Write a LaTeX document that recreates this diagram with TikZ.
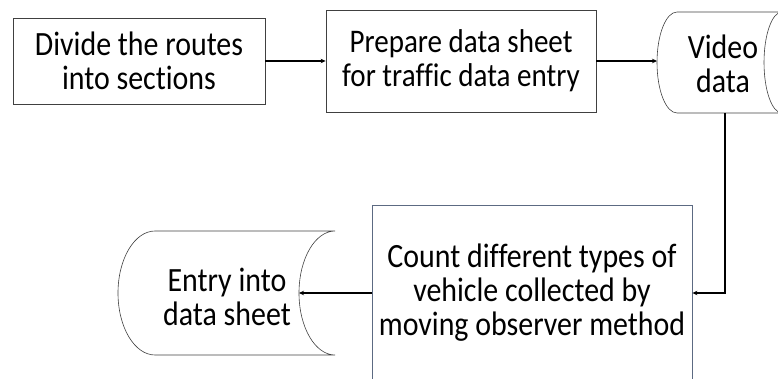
\documentclass[tikz,border=0pt]{standalone}
\usepackage{fontspec}
\setmainfont[Ligatures=NoCommon, FakeStretch=0.88]{Carlito}
\usepackage{tikz}
\usetikzlibrary{arrows.meta, calc}
\definecolor{slateEdge}{RGB}{92,106,130}

\begin{document}
\begin{tikzpicture}[x=1pt, y=-1pt,
        procBox/.style={draw=black!75, line width=0.8pt, align=center, inner sep=0pt},
        storeLine/.style={draw=black!75, line width=0.6pt},
        flowArrow/.style={line width=1.7pt, arrows={-{Stealth[length=5pt, width=4.5pt]}}}]
        \fontsize{34}{34}\selectfont
        \clip (0, 0) rectangle (778, 379);
        % process boxes
        \node [procBox, minimum width=252pt, minimum height=86pt] (divide) at (139, 61) {Divide the routes\\into sections};
        \node [procBox, minimum width=270pt, minimum height=102pt, font=\fontsize{33}{34}\selectfont] (prepare) at (461, 61) {Prepare data sheet\\for traffic data entry};
        \node [procBox, draw=slateEdge, minimum width=320pt, minimum height=176pt] (count) at (532, 293) {Count different types of\\vehicle collected by\\moving observer method};
        % stored data: video
        \coordinate (videoW) at (657, 61);
        \coordinate (videoS) at (725, 113);
        \draw [storeLine] (677, 12) -- (782, 12)
            arc [start angle=90, end angle=270, x radius=18pt, y radius=50.5pt]
            -- (677, 113)
            arc [start angle=270, end angle=90, x radius=20pt, y radius=50.5pt] -- cycle;
        \node [align=center] (video) at (723, 64) {Video\\data};
        % stored data: entry
        \coordinate (entryE) at (299, 293);
        \draw [storeLine] (155, 231) -- (335, 231)
            arc [start angle=90, end angle=270, x radius=36pt, y radius=62pt]
            -- (155, 355)
            arc [start angle=270, end angle=90, x radius=37pt, y radius=62pt] -- cycle;
        \node [align=center] (entry) at (227, 297) {Entry into\\data sheet};
        % flow
        \draw [flowArrow] (divide) -- (prepare);
        \draw [flowArrow] (prepare.east) -- (videoW);
        \draw [flowArrow] (videoS) |- (count.east);
        \draw [flowArrow] (count.west) -- (entryE);
\end{tikzpicture}
\end{document}
